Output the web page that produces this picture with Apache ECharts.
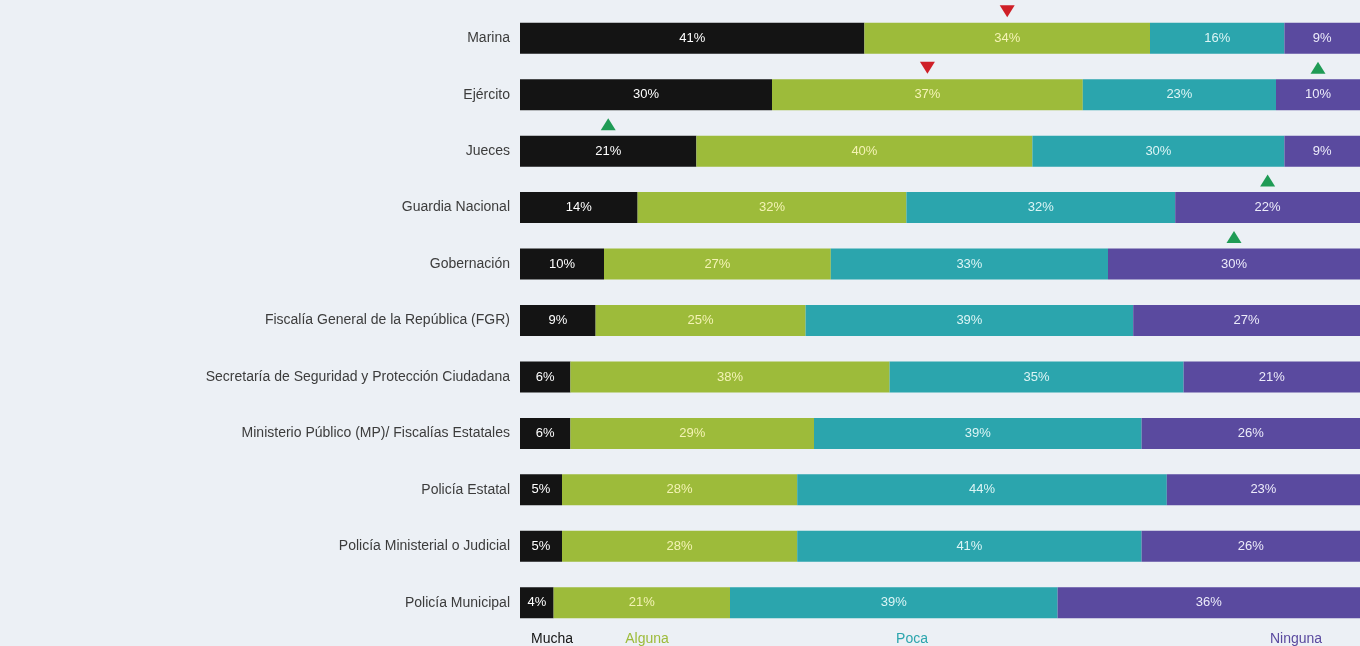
<!DOCTYPE html>
<html>
<head>
<meta charset="utf-8">
<script src="https://cdn.jsdelivr.net/npm/echarts@6/dist/echarts.min.js"></script>
<style>
  html, body { margin: 0; padding: 0; background: #ecf0f5; }
  #main { width: 1360px; height: 646px; }
</style>
</head>
<body>
<div id="main"></div>
<script>
// instituciones (de arriba hacia abajo)
var categorias = [
  'Marina', 'Ejército', 'Jueces', 'Guardia Nacional', 'Gobernación',
  'Fiscalía General de la República (FGR)',
  'Secretaría de Seguridad y Protección Ciudadana',
  'Ministerio Público (MP)/ Fiscalías Estatales',
  'Policía Estatal', 'Policía Ministerial o Judicial', 'Policía Municipal'
];
var mucha   = [41, 30, 21, 14, 10, 9, 6, 6, 5, 5, 4];
var alguna  = [34, 37, 40, 32, 27, 25, 38, 29, 28, 28, 21];
var poca    = [16, 23, 30, 32, 33, 39, 35, 39, 44, 41, 39];
var ninguna = [9, 10, 9, 22, 30, 27, 21, 26, 23, 26, 36];

// flechas de cambio: [categoria, segmento (0-3), 'sube' | 'baja']
var cambios = [
  ['Marina', 1, 'baja'],
  ['Ejército', 1, 'baja'],
  ['Ejército', 3, 'sube'],
  ['Jueces', 0, 'sube'],
  ['Guardia Nacional', 3, 'sube'],
  ['Gobernación', 3, 'sube']
];

var nombres = ['Mucha', 'Alguna', 'Poca', 'Ninguna'];
var colores = ['#141414', '#9dbb3a', '#2ba5ad', '#5a4a9f'];
var colorTexto = ['#ffffff', '#f4f3b4', '#dcf5f5', '#ecebfa'];
var valores = [mucha, alguna, poca, ninguna];

var chart = echarts.init(document.getElementById('main'));

var series = valores.map(function(v, i) {
  return {
    name: nombres[i],
    type: 'bar',
    stack: 'total',
    barWidth: 31,
    data: v,
    itemStyle: { color: colores[i] },
    label: {
      show: true,
      formatter: '{c}%',
      color: colorTexto[i],
      fontFamily: 'Liberation Sans Narrow, Liberation Sans, Arial',
      fontSize: 13
    }
  };
});

// posicion de cada flecha = centro del segmento
var flechas = cambios.map(function(c) {
  var idx = categorias.indexOf(c[0]);
  var inicio = 0;
  for (var k = 0; k < c[1]; k++) inicio += valores[k][idx];
  var centro = inicio + valores[c[1]][idx] / 2;
  return {
    value: [centro, c[0]],
    symbolRotate: c[2] === 'baja' ? 180 : 0,
    itemStyle: { color: c[2] === 'baja' ? '#cf1f27' : '#1f9b55', opacity: 1 }
  };
});

series.push({
  type: 'scatter',
  symbol: 'triangle',
  symbolSize: [15, 12],
  symbolOffset: [0, -27],
  z: 10,
  itemStyle: { opacity: 1 },
  data: flechas
});

var leyendaX = [552, 647, 912, 1296];

var option = {
  backgroundColor: '#ecf0f5',
  animation: false,
  grid: { left: 520, right: -4, top: 10, bottom: 15 },
  xAxis: {
    type: 'value',
    min: 0,
    max: 100,
    show: false
  },
  yAxis: {
    type: 'category',
    inverse: true,
    data: categorias,
    axisLine: { show: false },
    axisTick: { show: false },
    axisLabel: {
      margin: 10,
      color: '#3c3c3c',
      fontSize: 14,
      fontFamily: 'Liberation Sans, Arial'
    }
  },
  graphic: nombres.map(function(n, i) {
    return {
      type: 'text',
      x: leyendaX[i],
      y: 639,
      style: {
        text: n,
        fill: colores[i],
        font: '14px Liberation Sans, Arial',
        textAlign: 'center',
        textVerticalAlign: 'middle'
      }
    };
  }),
  series: series
};

chart.setOption(option);
</script>
</body>
</html>
